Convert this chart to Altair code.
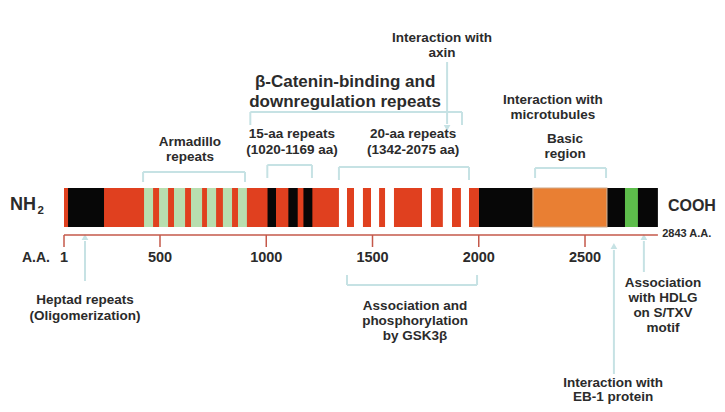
import altair as alt
import pandas as pd

# ---------------- data (amino-acid positions) ----------------
protein_len = 2843
tick_values = [1, 500, 1000, 1500, 2000, 2500]
tick_labels = ["1", "500", "1000", "1500", "2000", "2500"]

red_base = [(1, 2001)]
black_blocks = [(22, 209), (1006, 1046), (1104, 1148), (1175, 1217), (2001, 2843)]
armadillo_stripes = [(417, 464), (495, 538), (566, 618), (646, 698), (721, 764), (796, 839), (867, 909)]
aa20_stripes = [(1342, 1380), (1413, 1455), (1493, 1531), (1559, 1601), (1733, 1775), (1831, 1874), (1916, 1954)]
basic_region = [(2255, 2603)]
hdlg_motif = [(2688, 2749)]

# brackets: start aa, end aa, bar level, leg-tip level
brackets = [
    (925, 1921, 112, 125),    # beta-catenin binding and downregulation repeats
    (412, 900, 172, 182),     # Armadillo repeats
    (1005, 1215, 165, 178),   # 15-aa repeats
    (1342, 1954, 167, 180),   # 20-aa repeats
    (2265, 2599, 168, 178),   # basic region
    (1380, 1992, 285, 275),   # GSK3b
]
# arrows: aa, tail level, head level
arrows = [
    (1851, 62, 124),   # axin
    (110, 281, 241),   # heptad repeats
    (2636, 374, 250),  # EB-1
    (2777, 272, 241),  # HDLG
]

# text lines: aa position, level, text, font size
labels_center = [
    (1827, 38, "Interaction with", 13.5), (1827, 53, "axin", 13.5),
    (1371, 82, "β-Catenin-binding and", 17), (1371, 102, "downregulation repeats", 17),
    (641, 142, "Armadillo", 13.5), (641, 157, "repeats", 13.5),
    (1121, 134, "15-aa repeats", 13.5), (1121, 150, "(1020-1169 aa)", 13.5),
    (1691, 134, "20-aa repeats", 13.5), (1691, 150, "(1342-2075 aa)", 13.5),
    (2349, 100, "Interaction with", 13.5), (2349, 115, "microtubules", 13.5),
    (2406, 139, "Basic", 13.5), (2406, 154, "region", 13.5),
    (110, 300, "Heptad repeats", 13.5), (110, 316, "(Oligomerization)", 13.5),
    (1700, 306, "Association and", 13.5), (1700, 321, "phosphorylation", 13.5), (1700, 336, "by GSK3β", 13.5),
    (2867, 283, "Association", 13.5), (2867, 298, "with HDLG", 13.5), (2867, 313, "on S/TXV", 13.5), (2867, 328, "motif", 13.5),
    (2632, 383, "Interaction with", 13.5), (2632, 397, "EB-1 protein", 13.5),
    (-145, 258, "A.A.", 14),
]
labels_left = [
    (-280, 205, "NH", 18),
    (-137, 211, "2", 11.5),
    (2890, 206, "COOH", 16),
    (2863, 234, "2843 A.A.", 11),
]

# ---------------- build tables ----------------
segs = []
for kind, lst in [("linker", red_base), ("black", black_blocks), ("arm", armadillo_stripes),
                  ("rep20", aa20_stripes), ("basic", basic_region), ("hdlg", hdlg_motif)]:
    for s, e in lst:
        segs.append({"start": s, "end": e, "kind": kind, "order": len(segs)})
seg_df = pd.DataFrame(segs)
seg_df["top"] = 188
seg_df["bottom"] = 227

lines = []
for s, e, yb, yl in brackets:
    lines.append({"x": s, "x2": e, "y": yb, "y2": yb})
    lines.append({"x": s, "x2": s, "y": yb, "y2": yl})
    lines.append({"x": e, "x2": e, "y": yb, "y2": yl})
for a, yt, yh in arrows:
    lines.append({"x": a, "x2": a, "y": yt, "y2": yh})
line_df = pd.DataFrame(lines)

head_df = pd.DataFrame([{"x": a, "y": yh + (4 if yh > yt else -4),
                         "shape": "triangle-down" if yh > yt else "triangle-up"}
                        for a, yt, yh in arrows])

axis_df = pd.DataFrame([{"x": 1, "x2": protein_len, "y": 235, "y2": 235}] +
                       [{"x": t, "x2": t, "y": 235, "y2": 247} for t in tick_values])
ticklab_df = pd.DataFrame({"x": tick_values, "y": 258, "text": tick_labels})

txt_c = pd.DataFrame(labels_center, columns=["x", "y", "text", "size"])
txt_l = pd.DataFrame(labels_left, columns=["x", "y", "text", "size"])

# ---------------- scales ----------------
xs = alt.Scale(domain=[1, 500, protein_len], range=[56, 152, 649.9], nice=False, zero=False)
ys = alt.Scale(domain=[8, 404], range=[0, 396], nice=False, zero=False)
FONT = "Liberation Sans"
TXT = "#2b2b2b"

bar = alt.Chart(seg_df).mark_rect(strokeWidth=0).encode(
    x=alt.X("start:Q", scale=xs, axis=None), x2="end:Q",
    y=alt.Y("top:Q", scale=ys, axis=None), y2="bottom:Q",
    color=alt.Color("kind:N", legend=None, scale=alt.Scale(
        domain=["linker", "black", "arm", "rep20", "basic", "hdlg"],
        range=["#e0401f", "#070707", "#b8deaf", "#ffffff", "#e97f33", "#5dbd4b"])),
    order="order:Q",
)

basic_outline = alt.Chart(seg_df[seg_df.kind == "basic"]).mark_rect(
    fill="#e97f33", stroke="#cfa98a", strokeWidth=1.2).encode(
    x=alt.X("start:Q", scale=xs, axis=None), x2="end:Q",
    y=alt.Y("top:Q", scale=ys, axis=None), y2="bottom:Q")

axis_rules = alt.Chart(axis_df).mark_rule(color="#c4584a", strokeWidth=1.5).encode(
    x=alt.X("x:Q", scale=xs, axis=None), x2="x2:Q",
    y=alt.Y("y:Q", scale=ys, axis=None), y2="y2:Q")

ann_rules = alt.Chart(line_df).mark_rule(color="#c6e2e4", strokeWidth=2).encode(
    x=alt.X("x:Q", scale=xs, axis=None), x2="x2:Q",
    y=alt.Y("y:Q", scale=ys, axis=None), y2="y2:Q")

heads = alt.Chart(head_df).mark_point(filled=True, color="#c6e2e4", size=45, opacity=1).encode(
    x=alt.X("x:Q", scale=xs, axis=None),
    y=alt.Y("y:Q", scale=ys, axis=None),
    shape=alt.Shape("shape:N", scale=None))

ticklabs = alt.Chart(ticklab_df).mark_text(font=FONT, fontWeight="bold", fontSize=14.5,
                                           color=TXT, baseline="middle", align="center").encode(
    x=alt.X("x:Q", scale=xs, axis=None), y=alt.Y("y:Q", scale=ys, axis=None), text="text:N")

texts_c = alt.Chart(txt_c).mark_text(font=FONT, fontWeight="bold", color=TXT,
                                     baseline="middle", align="center").encode(
    x=alt.X("x:Q", scale=xs, axis=None), y=alt.Y("y:Q", scale=ys, axis=None),
    text="text:N", size=alt.Size("size:Q", scale=None))

texts_l = alt.Chart(txt_l).mark_text(font=FONT, fontWeight="bold", color=TXT,
                                     baseline="middle", align="left").encode(
    x=alt.X("x:Q", scale=xs, axis=None), y=alt.Y("y:Q", scale=ys, axis=None),
    text="text:N", size=alt.Size("size:Q", scale=None))

chart = alt.layer(ann_rules, heads, bar, basic_outline, axis_rules, ticklabs, texts_c, texts_l).properties(
    width=709, height=396, autosize="none", padding=0, background="white"
).configure_view(stroke=None)

chart.save("out.html", embed_options={"renderer": "svg", "actions": False})
